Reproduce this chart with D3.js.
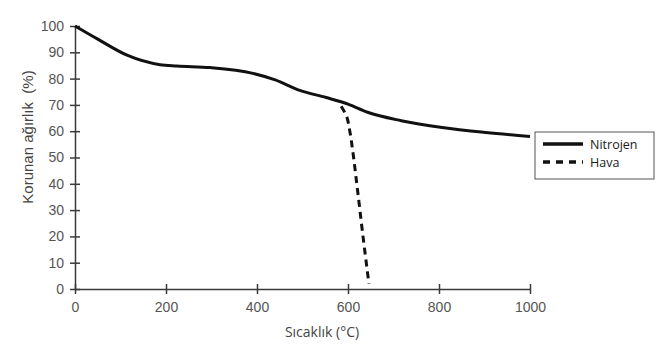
<!DOCTYPE html>
<html><head><meta charset="utf-8">
<script src="https://cdn.jsdelivr.net/npm/d3@7"></script>
<style>html,body{margin:0;padding:0;background:#fff;}</style>
</head><body>
<svg id="c" width="662" height="344"></svg>
<script>
const xTicks = [0, 200, 400, 600, 800, 1000];
const yTicks = [0, 10, 20, 30, 40, 50, 60, 70, 80, 90, 100];
const nitrojenT = [0, 50, 113, 187, 224, 297, 391, 440, 494, 552, 600, 643, 717, 807, 903, 1000];
const nitrojenW = [100, 95, 89, 85.3, 84.8, 84.2, 82, 79.5, 75.5, 72.8, 70.3, 67.2, 64, 61.4, 59.5, 58];
const havaT = [585, 596, 604, 610, 620, 633, 646];
const havaW = [69.5, 66, 60, 53, 39, 20, 2];
const series = [
  {name: "Nitrojen", T: nitrojenT, W: nitrojenW, dash: null},
  {name: "Hava", T: havaT, W: havaW, dash: "7,5"}
];

const svg = d3.select("#c");
const x = d3.scaleLinear().domain([0, 1000]).range([75, 530]);
const y = d3.scaleLinear().domain([0, 100]).range([289, 26]);

const font = "'Liberation Sans', Arial, sans-serif";
const axisColor = "#3a3a3a";

// X axis
const gx = svg.append("g").attr("transform", "translate(0,289)")
  .call(d3.axisBottom(x).tickValues(xTicks).tickFormat(d3.format("d")).tickSize(0).tickPadding(13));
gx.select(".domain").attr("stroke", axisColor).attr("stroke-width", 1.5);
gx.selectAll(".tick line").remove();
gx.selectAll(".tick").append("line").attr("y1", -5).attr("y2", 5).attr("stroke", axisColor).attr("stroke-width", 1.5);
gx.selectAll("text").attr("font-family", font).attr("font-size", 14).attr("fill", "#555");

// Y axis
const gy = svg.append("g").attr("transform", "translate(75,0)")
  .call(d3.axisLeft(y).tickValues(yTicks).tickFormat(d3.format("d")).tickSize(0).tickPadding(11));
gy.select(".domain").attr("stroke", axisColor).attr("stroke-width", 1.5);
gy.selectAll(".tick line").remove();
gy.selectAll(".tick").append("line").attr("x1", -5).attr("x2", 5).attr("stroke", axisColor).attr("stroke-width", 1.5);
gy.selectAll("text").attr("font-family", font).attr("font-size", 14).attr("fill", "#555");

// Titles
svg.append("text").attr("x", 322).attr("y", 337).attr("text-anchor", "middle")
  .attr("font-family", "'Open Sans', sans-serif").attr("font-size", 14).attr("fill", "#444")
  .text("Sıcaklık (°C)");
svg.append("text").attr("transform", "translate(33,137) rotate(-90)").attr("text-anchor", "middle")
  .attr("font-family", font).attr("font-size", 15).attr("fill", "#444")
  .text("Korunan ağırlık\u00a0\u00a0(%)");

// Lines
series.forEach(s => {
  const pts = s.T.map((t, i) => [x(t), y(s.W[i])]);
  const gen = s.name === "Hava" ? d3.line().curve(d3.curveMonotoneY) : d3.line().curve(d3.curveMonotoneX);
  const p = svg.append("path").attr("d", gen(pts))
    .attr("fill", "none").attr("stroke", "#111").attr("stroke-width", 3);
  if (s.dash) p.attr("stroke-dasharray", s.dash);
});

// Legend
const lg = svg.append("g");
lg.append("rect").attr("x", 535).attr("y", 132).attr("width", 119).attr("height", 47)
  .attr("fill", "#fff").attr("stroke", "#555").attr("stroke-width", 1);
series.forEach((s, i) => {
  const yy = 144 + i * 18;
  const l = lg.append("line").attr("x1", 543).attr("x2", 583).attr("y1", yy).attr("y2", yy)
    .attr("stroke", "#111").attr("stroke-width", 3.5);
  if (s.dash) l.attr("stroke-dasharray", "7,6");
  lg.append("text").attr("x", 590).attr("y", yy + 4.5).attr("font-family", "'Open Sans', sans-serif")
    .attr("font-size", 12.5).attr("fill", "#1a1a1a").text(s.name);
});
</script>
</body></html>
